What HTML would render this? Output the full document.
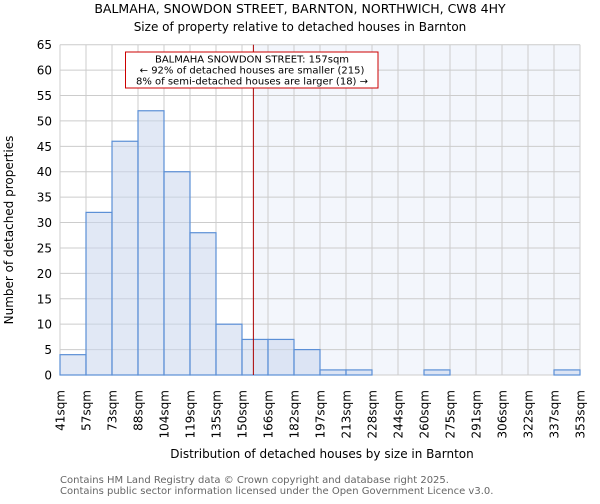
<!DOCTYPE html>
<html><head><meta charset="utf-8"><style>
body{margin:0;background:#fff;font-family:"DejaVu Sans","Liberation Sans",sans-serif;}
svg text{font-family:"DejaVu Sans","Liberation Sans",sans-serif;}
</style></head><body>
<svg id="c" width="600" height="500" xmlns="http://www.w3.org/2000/svg">
<text x="300" y="13" text-anchor="middle" font-size="12.5">BALMAHA, SNOWDON STREET, BARNTON, NORTHWICH, CW8 4HY</text>
<text x="300" y="31" text-anchor="middle" font-size="12">Size of property relative to detached houses in Barnton</text>
<g id="plot"></g>
<text x="13" y="230" text-anchor="middle" font-size="12" transform="rotate(-90 13 230)">Number of detached properties</text>
<text x="322" y="458" text-anchor="middle" font-size="12">Distribution of detached houses by size in Barnton</text>
<text x="60" y="483" font-size="10" fill="#666">Contains HM Land Registry data © Crown copyright and database right 2025.</text>
<text x="60" y="494" font-size="10" fill="#666">Contains public sector information licensed under the Open Government Licence v3.0.</text>
</svg>
<script>
const binLabels=["41sqm","57sqm","73sqm","88sqm","104sqm","119sqm","135sqm","150sqm","166sqm","182sqm","197sqm","213sqm","228sqm","244sqm","260sqm","275sqm","291sqm","306sqm","322sqm","337sqm","353sqm"];
const counts=[4,32,46,52,40,28,10,7,7,5,1,1,0,0,1,0,0,0,0,1];
const yTicks=[0,5,10,15,20,25,30,35,40,45,50,55,60,65];
const markerValue=157;
const binEdges=[41,57,73,88,104,119,135,150,166,182,197,213,228,244,260,275,291,306,322,337,353];
const L=60,R=580,T=44.7,B=375,yMax=65;
const NS="http://www.w3.org/2000/svg";
const g=document.getElementById('plot');
const n=counts.length,bw=(R-L)/n;
const xs=i=>L+i*bw;
const ys=v=>B-(v/yMax)*(B-T);
function mk(t,a){const e=document.createElementNS(NS,t);for(const k in a)e.setAttribute(k,a[k]);g.appendChild(e);return e;}
let mi=0;for(let i=0;i<binEdges.length-1;i++)if(markerValue>=binEdges[i])mi=i;
const mx=xs(mi)+(markerValue-binEdges[mi])/(binEdges[mi+1]-binEdges[mi])*bw;
let sh=mk('rect',{x:mx,y:T,width:R-mx,height:B-T,fill:'#f3f6fc'});


yTicks.forEach(v=>{
 let l=mk('line',{x1:L,x2:R,y1:ys(v),y2:ys(v),stroke:'#ccc','stroke-width':1});
 
 
 let t=mk('text',{x:L-8,y:ys(v)+4.5,'text-anchor':'end','font-size':12});
 
 
 t.textContent=v;
});
binLabels.forEach((s,i)=>{
 let l=mk('line',{x1:xs(i),x2:xs(i),y1:T,y2:B,stroke:'#ccc','stroke-width':1});
 
 
 const x=xs(i)+4.5,y=390;
 let t=mk('text',{x:x,y:y,'text-anchor':'end','font-size':12,transform:`rotate(-90 ${x} ${y})`});
 
 
 t.textContent=s;
});
counts.forEach((v,i)=>{
 if(v<=0)return;
 let r=mk('rect',{x:xs(i),y:ys(v),width:bw,height:B-ys(v),fill:'rgba(200,214,236,0.55)',stroke:'#5b8fd6','stroke-width':1.2});
 
 
});
let ml=mk('line',{x1:mx,x2:mx,y1:T,y2:B,stroke:'#a00','stroke-width':1});


let bx=mk('rect',{x:125.5,y:52,width:252.5,height:36,fill:'#fff',stroke:'#c00','stroke-width':1});


["BALMAHA SNOWDON STREET: 157sqm","← 92% of detached houses are smaller (215)","8% of semi-detached houses are larger (18) →"].forEach((s,i)=>{
 let t=mk('text',{x:252,y:62.5+i*11,'text-anchor':'middle','font-size':10});
 
 
 t.textContent=s;
});
</script>
</body></html>
